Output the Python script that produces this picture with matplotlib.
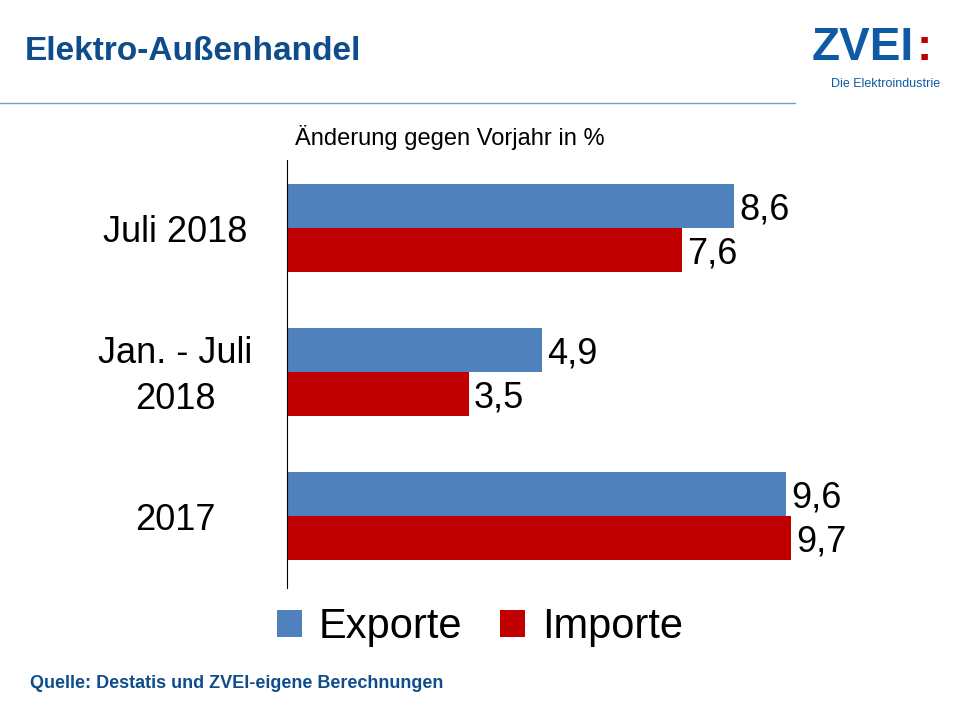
import numpy as np
import matplotlib.pyplot as plt

plt.rcParams["font.family"] = ["Liberation Sans", "DejaVu Sans"]

categories = ["Juli 2018", "Jan. - Juli\n2018", "2017"]
exporte = [8.6, 4.9, 9.6]
importe = [7.6, 3.5, 9.7]

blue = "#4F81BD"
red = "#C00000"
W, H = 960, 720

fig = plt.figure(figsize=(9.6, 7.2), dpi=100)
ax = fig.add_axes([287 / W, 1 - 588 / H, (800 - 287) / W, (588 - 160) / H])

y = np.arange(len(categories))
h = 0.305
ax.barh(y - h / 2, exporte, height=h, color=blue, label="Exporte")
ax.barh(y + h / 2, importe, height=h, color=red, label="Importe")
for i in range(len(categories)):
    ax.text(exporte[i] + 0.1, y[i] - h / 2 + 0.03, f"{exporte[i]:.1f}".replace(".", ","),
            va="center", ha="left", fontsize=26)
    ax.text(importe[i] + 0.1, y[i] + h / 2 + 0.03, f"{importe[i]:.1f}".replace(".", ","),
            va="center", ha="left", fontsize=26)

ax.set_xlim(0, 9.87)
ax.set_ylim(2.5, -0.472)
ax.set_yticks([])
for i, c in enumerate(categories):
    ax.text(-2.15, y[i] + 0.03, c, ha="center", va="center", fontsize=26,
            multialignment="center", linespacing=1.4)
ax.set_xticks([])
for s in ["top", "right", "bottom"]:
    ax.spines[s].set_visible(False)
ax.spines["left"].set_linewidth(0.8)

fig.text(295 / W, 1 - 138 / H, "Änderung gegen Vorjahr in %", fontsize=17, va="center")

leg = fig.legend(loc="center", bbox_to_anchor=(480 / W, 1 - 627 / H), ncol=2,
                 fontsize=30, frameon=False, handlelength=0.6, handleheight=0.6,
                 handletextpad=0.4, columnspacing=0.9)

fig.text(25 / W, 1 - 52 / H, "Elektro-Außenhandel", fontsize=24, fontweight="bold",
         color="#0F4C8C", va="center")
fig.add_artist(plt.Line2D([0, 795 / W], [1 - 103 / H] * 2, color="#7F9DBF", lw=1))
fig.text(812 / W, 1 - 48 / H, "ZVEI", fontsize=33, fontweight="bold", color="#0F5AA5",
         va="center", ha="left")
fig.text(917 / W, 1 - 48 / H, ":", fontsize=33, fontweight="bold", color="#C00000",
         va="center", ha="left")
fig.text(940 / W, 1 - 84 / H, "Die Elektroindustrie", fontsize=9, color="#0F5AA5",
         va="center", ha="right")
fig.text(30 / W, 1 - 683 / H, "Quelle: Destatis und ZVEI-eigene Berechnungen", fontsize=13,
         fontweight="bold", color="#0F4C8C", va="center")

fig.savefig("out.png", dpi=100)
